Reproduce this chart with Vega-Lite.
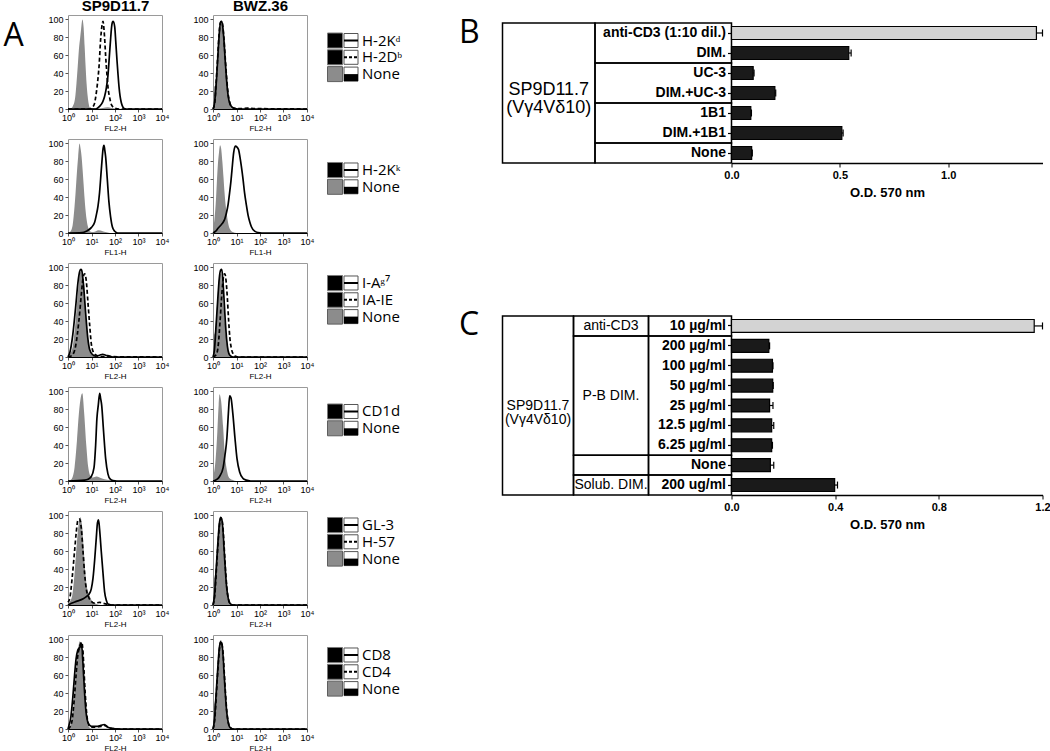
{
"$schema":"https://vega.github.io/schema/vega-lite/v6.json",
"padding":{"left":3,"top":-3,"right":0,"bottom":0},
"config":{
 "font":"Liberation Sans",
 "view":{"stroke":"#9a9a9a","strokeWidth":1},
 "axis":{"grid":false,"labelColor":"#000","titleColor":"#000","labelFont":"Liberation Sans","titleFont":"Liberation Sans"},
 "axisX":{"labelFontSize":9,"tickSize":3,"labelPadding":1,"titleFontSize":8,"titleFontWeight":"normal","titlePadding":2,"domainColor":"#000","tickColor":"#555","labelFlush":false,"labelOverlap":false},
 "axisY":{"labelFontSize":9,"tickSize":3,"labelPadding":2,"domainColor":"#888","domainDash":[1,1],"tickColor":"#555"},
 "title":{"font":"Liberation Sans","color":"#000"}
},
"datasets":{
 "h":[
  {"p":"1L","s":"none","x":[1,1.4,1.6,2,2.3,2.6,2.9,3.3,3.6,4.1,4.6,5.1,5.6,6.2,6.9,7.6,8.3,10,20,30,50,70,100,200,10000],"y":[0,1,3,12,29,48,66,80,89,100,92,70,48,28,14,6,2,1,0.5,1,2,1,0.5,0,0]},
  {"p":"1L","s":"dash","x":[1,8,10,13,16,19,21,24.5,27,29,31,34,37,40,45,50,60,70,97,150,10000],"y":[0,0,1,5,18,35,48,78,90,96,98,89,75,59,40,25,12,5,1,0,0]},
  {"p":"1L","s":"solid","x":[1,15,22,30,36,43,50,59,65,70,78,84,97,108,121,135,148,165,186,210,233,300,10000],"y":[0,0,3,8,14,24,37,63,78,89,97,98,92,75,55,38,25,14,7,3,1,0,0]},
  {"p":"1R","s":"none","x":[1,1.15,1.3,1.5,1.7,1.9,2.15,2.4,2.7,3,3.4,3.9,4.5,5.2,6,8,10000],"y":[35,25,30,50,70,85,93,95,88,72,50,28,12,4,1,0,0]},
  {"p":"1R","s":"solid","x":[1,1.1,1.3,1.5,1.7,1.9,2.1,2.35,2.6,2.9,3.3,3.8,4.4,5.2,6.5,8,12,10000],"y":[0,3,20,45,70,88,97,98,92,78,55,32,15,6,2,0.5,0,0]},
  {"p":"1R","s":"dash","x":[1,1.2,1.4,1.6,1.8,2,2.3,2.6,2.9,3.3,3.8,4.4,5.2,6.5,8,15,30,60,10000],"y":[0,8,35,60,82,95,98,93,80,58,35,17,7,2,1,0.5,1,0.5,0]},
  {"p":"2L","s":"none","x":[1,1.3,1.6,1.9,2.1,2.4,2.7,3.1,3.4,3.8,4.2,4.6,5.1,5.6,6.2,6.9,8.4,12,20,30,40,60,10000],"y":[0,2,10,30,45,68,85,100,95,85,70,55,38,25,15,8,2,1,3,2,1,0,0]},
  {"p":"2L","s":"solid","x":[1,4,6,9.8,13.6,16,18.9,22,26,29,31,34,37,40,47,55,65,77,97,130,10000],"y":[0,0.5,2,6,12,20,30,45,70,86,94,98,92,85,60,35,18,7,2,0,0]},
  {"p":"2R","s":"none","x":[1,1.15,1.3,1.45,1.6,1.8,2,2.2,2.5,2.8,3.1,3.5,3.9,4.5,5.1,7,10,10000],"y":[5,15,32,55,75,90,98,95,80,62,45,30,20,10,5,1,0,0]},
  {"p":"2R","s":"solid","x":[1,1.3,1.6,2.2,2.7,3.2,3.7,4.4,5.1,5.8,6.4,7.6,8.9,10.5,12.3,14,16,19,22,26,31,37,43,59,82,120,10000],"y":[0,2,5,9,12,16,22,32,45,58,70,90,97,96,93,85,75,60,45,32,20,12,7,2,0.5,0,0]},
  {"p":"3L","s":"none","x":[1,1.2,1.6,2.1,2.7,3.35,4.35,5.3,6.4,7.8,9.8,14,10000],"y":[0,3,12,40,75,95,85,60,30,10,3,0.5,0]},
  {"p":"3L","s":"solid","x":[1,1.2,1.6,2.1,2.7,3.1,3.5,3.8,4.6,5.6,6.9,8.4,10.8,15,22,30,40,59,80,10000],"y":[0,5,25,55,85,95,98,97,80,50,22,8,3,1,2,3,2,1,0,0]},
  {"p":"3L","s":"dash","x":[1,1.5,2.1,2.9,3.7,4.35,5.1,6,7.1,8.4,9.8,12.3,16,25,10000],"y":[0,2,12,40,70,88,93,85,60,35,15,5,2,0.5,0]},
  {"p":"3R","s":"none","x":[1,1.1,1.25,1.45,1.7,1.95,2.2,2.5,2.8,3.2,3.7,4.3,5.1,6.5,8,10000],"y":[35,25,30,55,80,92,93,80,60,38,20,8,3,1,0,0]},
  {"p":"3R","s":"solid","x":[1,1.15,1.35,1.6,1.85,2.1,2.35,2.6,2.9,3.3,3.8,4.4,5.2,7,10000],"y":[0,8,35,65,88,97,98,88,68,42,20,7,2,0,0]},
  {"p":"3R","s":"dash","x":[1,1.4,1.7,2,2.3,2.6,2.9,3.2,3.6,4.1,4.6,5.2,6,7,8.5,12,10000],"y":[0,3,15,40,65,82,92,93,85,65,42,22,10,4,1,0,0]},
  {"p":"4L","s":"none","x":[1,1.4,1.9,2.4,2.9,3.6,4.07,4.9,6,7.3,8.9,11.6,16,22,36,59,100,10000],"y":[0,2,15,45,75,95,98,75,40,15,6,4,5,4,2,1,0,0]},
  {"p":"4L","s":"solid","x":[1,5.1,7.1,9.8,12.8,15,17,19.5,22.3,24.5,27,32.7,40,50,63,82,120,10000],"y":[0,1,2,5,15,40,70,85,98,92,85,55,25,8,2,0.5,0,0]},
  {"p":"4R","s":"none","x":[1,1.3,1.53,1.74,1.9,2.2,2.7,3.2,3.9,5.1,7,10,10000],"y":[3,25,55,85,97,90,60,30,12,3,1,0,0]},
  {"p":"4R","s":"solid","x":[1,1.5,1.9,2.7,3.2,3.9,4.5,5.1,5.8,7,8.6,10.5,13.6,18.9,26,40,10000],"y":[0,2,5,15,28,48,75,95,93,75,48,25,10,3,1,0,0]},
  {"p":"5L","s":"none","x":[1,1.1,1.5,1.9,2.4,2.9,3.35,4.1,4.6,5.3,6.4,7.8,9.8,12.3,16,25,10000],"y":[0,2,10,35,70,92,98,85,65,40,20,12,6,3,1,0,0]},
  {"p":"5L","s":"dash","x":[1,1.2,1.5,1.9,2.26,2.66,3.1,3.7,4.35,5.1,6,7.8,9.8,13.6,22,31,43,70,10000],"y":[3,8,30,60,82,95,96,85,60,35,18,8,4,2,3,2,1,0,0]},
  {"p":"5L","s":"solid","x":[1,1.4,2.26,3.7,5.1,6.4,7.8,9.8,11.6,13.6,16,18,19.9,22,26,31,36,43,50,70,10000],"y":[0,2,4,6,8,10,12,18,30,50,75,92,95,85,60,35,15,5,1,0,0]},
  {"p":"5R","s":"none","x":[1,1.1,1.3,1.5,1.75,2,2.2,2.5,2.8,3.2,3.7,4.3,5.1,6.5,8,10000],"y":[40,30,40,60,85,95,93,80,60,38,18,7,2,0.5,0,0]},
  {"p":"5R","s":"solid","x":[1,1.15,1.35,1.6,1.85,2.1,2.35,2.6,2.9,3.3,3.8,4.4,5.2,7,10000],"y":[0,10,38,68,90,98,96,86,66,42,20,8,2,0,0]},
  {"p":"5R","s":"dash","x":[1,1.2,1.4,1.65,1.9,2.15,2.4,2.7,3,3.4,3.9,4.5,5.3,7,10000],"y":[0,12,40,70,90,97,95,84,64,40,19,7,2,0,0]},
  {"p":"6L","s":"none","x":[1,1.2,1.5,1.8,2.1,2.5,2.9,3.2,3.6,4.1,4.6,5.2,5.9,6.8,8,10,10000],"y":[0,3,12,35,60,82,95,98,92,78,55,32,15,6,2,0.5,0]},
  {"p":"6L","s":"solid","x":[1,1.1,1.3,1.6,1.9,2.2,2.6,2.9,3.3,3.6,4,4.5,5.1,5.8,6.6,7.8,10,16,25,35,50,80,150,10000],"y":[0,4,12,35,60,78,88,90,92,96,88,65,40,20,10,5,3,3,4,5,2,0.5,0,0]},
  {"p":"6L","s":"dash","x":[1,1.2,1.5,1.8,2.2,2.6,3,3.4,3.8,4.3,4.8,5.4,6.1,7,8.5,12,25,35,50,80,150,10000],"y":[0,2,10,30,60,82,90,95,97,88,65,40,20,8,3,2,3,4,2,0.5,0,0]},
  {"p":"6R","s":"none","x":[1,1.1,1.3,1.5,1.75,2,2.2,2.5,2.8,3.2,3.7,4.3,5.1,6.5,8,10000],"y":[40,28,38,60,84,95,94,80,60,38,18,7,2,0.5,0,0]},
  {"p":"6R","s":"solid","x":[1,1.15,1.35,1.6,1.85,2.1,2.35,2.6,2.9,3.3,3.8,4.4,5.2,7,10000],"y":[0,10,38,68,90,97,96,86,66,42,20,8,2,0,0]},
  {"p":"6R","s":"dash","x":[1,1.2,1.4,1.65,1.9,2.15,2.4,2.7,3,3.4,3.9,4.5,5.3,7,10000],"y":[0,12,40,70,90,98,95,84,64,40,19,7,2,0,0]}
 ],
 "leg":[
  {"r":1,"i":0,"k":"ab","st":"solid","t":"H-2Kᵈ"},
  {"r":1,"i":1,"k":"ab","st":"dash","t":"H-2Dᵇ"},
  {"r":1,"i":2,"k":"none","st":"none","t":"None"},
  {"r":2,"i":0,"k":"ab","st":"solid","t":"H-2Kᵏ"},
  {"r":2,"i":1,"k":"none","st":"none","t":"None"},
  {"r":3,"i":0,"k":"ab","st":"solid","t":"I-Aᵍ⁷"},
  {"r":3,"i":1,"k":"ab","st":"dash","t":"IA-IE"},
  {"r":3,"i":2,"k":"none","st":"none","t":"None"},
  {"r":4,"i":0,"k":"ab","st":"solid","t":"CD1d"},
  {"r":4,"i":1,"k":"none","st":"none","t":"None"},
  {"r":5,"i":0,"k":"ab","st":"solid","t":"GL-3"},
  {"r":5,"i":1,"k":"ab","st":"dash","t":"H-57"},
  {"r":5,"i":2,"k":"none","st":"none","t":"None"},
  {"r":6,"i":0,"k":"ab","st":"solid","t":"CD8"},
  {"r":6,"i":1,"k":"ab","st":"dash","t":"CD4"},
  {"r":6,"i":2,"k":"none","st":"none","t":"None"}
 ],
 "b":[
  {"c":"anti-CD3 (1:10 dil.)","k":"ctrl","v":1.407,"hi":1.435},
  {"c":"DIM.","k":"test","v":0.541,"hi":0.552},
  {"c":"UC-3","k":"test","v":0.1,"hi":0.104},
  {"c":"DIM.+UC-3","k":"test","v":0.2,"hi":0.204},
  {"c":"1B1","k":"test","v":0.089,"hi":0.092},
  {"c":"DIM.+1B1","k":"test","v":0.509,"hi":0.515},
  {"c":"None","k":"test","v":0.093,"hi":0.096}
 ],
 "c":[
  {"c":"10 µg/ml","k":"ctrl","v":1.168,"hi":1.2},
  {"c":"200 µg/ml","k":"test","v":0.144,"hi":0.147},
  {"c":"100 µg/ml","k":"test","v":0.158,"hi":0.16},
  {"c":"50 µg/ml","k":"test","v":0.159,"hi":0.161},
  {"c":"25 µg/ml","k":"test","v":0.147,"hi":0.16},
  {"c":"12.5 µg/ml","k":"test","v":0.155,"hi":0.163},
  {"c":"6.25 µg/ml","k":"test","v":0.155,"hi":0.158},
  {"c":"None","k":"test","v":0.15,"hi":0.163},
  {"c":"200 ug/ml","k":"test","v":0.398,"hi":0.409}
 ],
 "tb":[
  {"c0":0,"c1":1,"r0":0,"r1":7,"t":"SP9D11.7\n(Vγ4Vδ10)"},
  {"c0":1,"c1":2,"r0":0,"r1":2,"t":""},
  {"c0":1,"c1":2,"r0":2,"r1":4,"t":""},
  {"c0":1,"c1":2,"r0":4,"r1":6,"t":""},
  {"c0":1,"c1":2,"r0":6,"r1":7,"t":""}
 ],
 "tc":[
  {"c0":0,"c1":1,"r0":0,"r1":9,"t":"SP9D11.7\n(Vγ4Vδ10)"},
  {"c0":1,"c1":2,"r0":0,"r1":1,"t":"anti-CD3"},
  {"c0":1,"c1":2,"r0":1,"r1":7,"t":"P-B DIM."},
  {"c0":1,"c1":2,"r0":7,"r1":8,"t":""},
  {"c0":1,"c1":2,"r0":8,"r1":9,"t":"Solub. DIM."},
  {"c0":2,"c1":3,"r0":0,"r1":1,"t":""},
  {"c0":2,"c1":3,"r0":1,"r1":7,"t":""},
  {"c0":2,"c1":3,"r0":7,"r1":8,"t":""},
  {"c0":2,"c1":3,"r0":8,"r1":9,"t":""}
 ]
},
"spacing":6.5,
"hconcat":[
 {
  "columns":3,
  "spacing":{"row":30,"column":51},
  "bounds":"flush",
  "concat":[
   {"width":94,"height":94,"data":{"name":"h"},"transform":[{"filter":"datum.p=='1L'"},{"flatten":["x","y"]}],
    "encoding":{"x":{"field":"x","type":"quantitative","scale":{"type":"log","domain":[1,10000],"nice":false},"axis":{"values":[1,10,100,1000,10000],"labelExpr":"'10'+['⁰','¹','²','³','⁴'][round(log(datum.value)/LN10)]","title":"FL2-H"}},"y":{"field":"y","type":"quantitative","scale":{"domain":[0,105],"nice":false},"axis":{"values":[0,20,40,60,80,100],"title":"SP9D11.7","titleAngle":0,"titleX":47,"titleY":-5,"titleAlign":"center","titleBaseline":"alphabetic","titleFontSize":15,"titleFontWeight":"bold"}}},
    "layer":[{"transform":[{"filter":"datum.s=='none'"}],"mark":{"type":"area","color":"#8c8c8c","interpolate":"monotone"}},{"transform":[{"filter":"datum.s=='dash'"}],"mark":{"type":"line","color":"#000","strokeWidth":1.7,"strokeDash":[4,2.5],"interpolate":"monotone"}},{"transform":[{"filter":"datum.s=='solid'"}],"mark":{"type":"line","color":"#000","strokeWidth":1.7,"interpolate":"monotone"}}]},
   {"width":94,"height":94,"data":{"name":"h"},"transform":[{"filter":"datum.p=='1R'"},{"flatten":["x","y"]}],
    "encoding":{"x":{"field":"x","type":"quantitative","scale":{"type":"log","domain":[1,10000],"nice":false},"axis":{"values":[1,10,100,1000,10000],"labelExpr":"'10'+['⁰','¹','²','³','⁴'][round(log(datum.value)/LN10)]","title":"FL2-H"}},"y":{"field":"y","type":"quantitative","scale":{"domain":[0,105],"nice":false},"axis":{"values":[0,20,40,60,80,100],"title":"BWZ.36","titleAngle":0,"titleX":47,"titleY":-5,"titleAlign":"center","titleBaseline":"alphabetic","titleFontSize":15,"titleFontWeight":"bold"}}},
    "layer":[{"transform":[{"filter":"datum.s=='none'"}],"mark":{"type":"area","color":"#8c8c8c","interpolate":"monotone"}},{"transform":[{"filter":"datum.s=='dash'"}],"mark":{"type":"line","color":"#000","strokeWidth":1.7,"strokeDash":[4,2.5],"interpolate":"monotone"}},{"transform":[{"filter":"datum.s=='solid'"}],"mark":{"type":"line","color":"#000","strokeWidth":1.7,"interpolate":"monotone"}}]},
   {"width":94,"height":94,"view":{"stroke":null},"data":{"name":"leg"},"transform":[{"filter":"datum.r==1"}],
    "encoding":{"y":{"field":"i","type":"quantitative","scale":{"domain":[-1.518,4.077],"reverse":true,"nice":false,"zero":false},"axis":{"values":[],"labels":false,"ticks":false,"domain":false,"title":"A","titleAngle":0,"titleX":-355,"titleY":30,"titleAlign":"left","titleBaseline":"alphabetic","titleFontSize":32,"titleFont":"Open Sans","titleFontWeight":"normal"}},"x":{"datum":0,"type":"quantitative","scale":{"domain":[1.4375,7.3125],"nice":false,"zero":false},"axis":null}},
    "layer":[
     {"mark":{"type":"point","shape":"square","filled":true,"size":225,"strokeWidth":1,"opacity":1},"encoding":{"fill":{"field":"k","type":"nominal","scale":{"domain":["ab","none","ctrl","test"],"range":["#000000","#8c8c8c","#d3d3d3","#1a1a1a"]},"legend":null},"stroke":{"field":"k","type":"nominal","scale":{"domain":["ab","none"],"range":["#7a7a7a","#5e5e5e"]},"legend":null}}},
     {"mark":{"type":"point","shape":"square","filled":true,"fill":"#ffffff","stroke":"#555555","strokeWidth":1,"size":196,"opacity":1},"encoding":{"x":{"datum":1,"type":"quantitative"}}},
     {"transform":[{"filter":"datum.st!='none'"}],"mark":{"type":"point","shape":"M-1,0L1,0","filled":false,"stroke":"#000000","strokeWidth":2,"size":196,"opacity":1},"encoding":{"x":{"datum":1,"type":"quantitative"},"strokeDash":{"field":"st","type":"nominal","scale":{"domain":["solid","dash"],"range":[[1,0],[3,2]]},"legend":null}}},
     {"transform":[{"filter":"datum.st=='none'"}],"mark":{"type":"point","shape":"M-1,0L1,0L1,1L-1,1Z","filled":true,"fill":"#000000","size":196,"opacity":1},"encoding":{"x":{"datum":1,"type":"quantitative"}}},
     {"mark":{"type":"text","align":"left","baseline":"middle","dx":11,"fontSize":15,"font":"Open Sans","color":"#000000"},"encoding":{"x":{"datum":1,"type":"quantitative"},"text":{"field":"t","type":"nominal"}}}
    ]},
   {"width":94,"height":94,"data":{"name":"h"},"transform":[{"filter":"datum.p=='2L'"},{"flatten":["x","y"]}],
    "encoding":{"x":{"field":"x","type":"quantitative","scale":{"type":"log","domain":[1,10000],"nice":false},"axis":{"values":[1,10,100,1000,10000],"labelExpr":"'10'+['⁰','¹','²','³','⁴'][round(log(datum.value)/LN10)]","title":"FL1-H"}},"y":{"field":"y","type":"quantitative","scale":{"domain":[0,105],"nice":false},"axis":{"values":[0,20,40,60,80,100],"title":null}}},
    "layer":[{"transform":[{"filter":"datum.s=='none'"}],"mark":{"type":"area","color":"#8c8c8c","interpolate":"monotone"}},{"transform":[{"filter":"datum.s=='dash'"}],"mark":{"type":"line","color":"#000","strokeWidth":1.7,"strokeDash":[4,2.5],"interpolate":"monotone"}},{"transform":[{"filter":"datum.s=='solid'"}],"mark":{"type":"line","color":"#000","strokeWidth":1.7,"interpolate":"monotone"}}]},
   {"width":94,"height":94,"data":{"name":"h"},"transform":[{"filter":"datum.p=='2R'"},{"flatten":["x","y"]}],
    "encoding":{"x":{"field":"x","type":"quantitative","scale":{"type":"log","domain":[1,10000],"nice":false},"axis":{"values":[1,10,100,1000,10000],"labelExpr":"'10'+['⁰','¹','²','³','⁴'][round(log(datum.value)/LN10)]","title":"FL1-H"}},"y":{"field":"y","type":"quantitative","scale":{"domain":[0,105],"nice":false},"axis":{"values":[0,20,40,60,80,100],"title":null}}},
    "layer":[{"transform":[{"filter":"datum.s=='none'"}],"mark":{"type":"area","color":"#8c8c8c","interpolate":"monotone"}},{"transform":[{"filter":"datum.s=='dash'"}],"mark":{"type":"line","color":"#000","strokeWidth":1.7,"strokeDash":[4,2.5],"interpolate":"monotone"}},{"transform":[{"filter":"datum.s=='solid'"}],"mark":{"type":"line","color":"#000","strokeWidth":1.7,"interpolate":"monotone"}}]},
   {"width":94,"height":94,"view":{"stroke":null},"data":{"name":"leg"},"transform":[{"filter":"datum.r==2"}],
    "encoding":{"y":{"field":"i","type":"quantitative","scale":{"domain":[-1.845,3.75],"reverse":true,"nice":false,"zero":false},"axis":null},"x":{"datum":0,"type":"quantitative","scale":{"domain":[1.4375,7.3125],"nice":false,"zero":false},"axis":null}},
    "layer":[
     {"mark":{"type":"point","shape":"square","filled":true,"size":225,"strokeWidth":1,"opacity":1},"encoding":{"fill":{"field":"k","type":"nominal","scale":{"domain":["ab","none","ctrl","test"],"range":["#000000","#8c8c8c","#d3d3d3","#1a1a1a"]},"legend":null},"stroke":{"field":"k","type":"nominal","scale":{"domain":["ab","none"],"range":["#7a7a7a","#5e5e5e"]},"legend":null}}},
     {"mark":{"type":"point","shape":"square","filled":true,"fill":"#ffffff","stroke":"#555555","strokeWidth":1,"size":196,"opacity":1},"encoding":{"x":{"datum":1,"type":"quantitative"}}},
     {"transform":[{"filter":"datum.st!='none'"}],"mark":{"type":"point","shape":"M-1,0L1,0","filled":false,"stroke":"#000000","strokeWidth":2,"size":196,"opacity":1},"encoding":{"x":{"datum":1,"type":"quantitative"},"strokeDash":{"field":"st","type":"nominal","scale":{"domain":["solid","dash"],"range":[[1,0],[3,2]]},"legend":null}}},
     {"transform":[{"filter":"datum.st=='none'"}],"mark":{"type":"point","shape":"M-1,0L1,0L1,1L-1,1Z","filled":true,"fill":"#000000","size":196,"opacity":1},"encoding":{"x":{"datum":1,"type":"quantitative"}}},
     {"mark":{"type":"text","align":"left","baseline":"middle","dx":11,"fontSize":15,"font":"Open Sans","color":"#000000"},"encoding":{"x":{"datum":1,"type":"quantitative"},"text":{"field":"t","type":"nominal"}}}
    ]},
   {"width":94,"height":94,"data":{"name":"h"},"transform":[{"filter":"datum.p=='3L'"},{"flatten":["x","y"]}],
    "encoding":{"x":{"field":"x","type":"quantitative","scale":{"type":"log","domain":[1,10000],"nice":false},"axis":{"values":[1,10,100,1000,10000],"labelExpr":"'10'+['⁰','¹','²','³','⁴'][round(log(datum.value)/LN10)]","title":"FL2-H"}},"y":{"field":"y","type":"quantitative","scale":{"domain":[0,105],"nice":false},"axis":{"values":[0,20,40,60,80,100],"title":null}}},
    "layer":[{"transform":[{"filter":"datum.s=='none'"}],"mark":{"type":"area","color":"#8c8c8c","interpolate":"monotone"}},{"transform":[{"filter":"datum.s=='dash'"}],"mark":{"type":"line","color":"#000","strokeWidth":1.7,"strokeDash":[4,2.5],"interpolate":"monotone"}},{"transform":[{"filter":"datum.s=='solid'"}],"mark":{"type":"line","color":"#000","strokeWidth":1.7,"interpolate":"monotone"}}]},
   {"width":94,"height":94,"data":{"name":"h"},"transform":[{"filter":"datum.p=='3R'"},{"flatten":["x","y"]}],
    "encoding":{"x":{"field":"x","type":"quantitative","scale":{"type":"log","domain":[1,10000],"nice":false},"axis":{"values":[1,10,100,1000,10000],"labelExpr":"'10'+['⁰','¹','²','³','⁴'][round(log(datum.value)/LN10)]","title":"FL2-H"}},"y":{"field":"y","type":"quantitative","scale":{"domain":[0,105],"nice":false},"axis":{"values":[0,20,40,60,80,100],"title":null}}},
    "layer":[{"transform":[{"filter":"datum.s=='none'"}],"mark":{"type":"area","color":"#8c8c8c","interpolate":"monotone"}},{"transform":[{"filter":"datum.s=='dash'"}],"mark":{"type":"line","color":"#000","strokeWidth":1.7,"strokeDash":[4,2.5],"interpolate":"monotone"}},{"transform":[{"filter":"datum.s=='solid'"}],"mark":{"type":"line","color":"#000","strokeWidth":1.7,"interpolate":"monotone"}}]},
   {"width":94,"height":94,"view":{"stroke":null},"data":{"name":"leg"},"transform":[{"filter":"datum.r==3"}],
    "encoding":{"y":{"field":"i","type":"quantitative","scale":{"domain":[-1.19,4.405],"reverse":true,"nice":false,"zero":false},"axis":null},"x":{"datum":0,"type":"quantitative","scale":{"domain":[1.4375,7.3125],"nice":false,"zero":false},"axis":null}},
    "layer":[
     {"mark":{"type":"point","shape":"square","filled":true,"size":225,"strokeWidth":1,"opacity":1},"encoding":{"fill":{"field":"k","type":"nominal","scale":{"domain":["ab","none","ctrl","test"],"range":["#000000","#8c8c8c","#d3d3d3","#1a1a1a"]},"legend":null},"stroke":{"field":"k","type":"nominal","scale":{"domain":["ab","none"],"range":["#7a7a7a","#5e5e5e"]},"legend":null}}},
     {"mark":{"type":"point","shape":"square","filled":true,"fill":"#ffffff","stroke":"#555555","strokeWidth":1,"size":196,"opacity":1},"encoding":{"x":{"datum":1,"type":"quantitative"}}},
     {"transform":[{"filter":"datum.st!='none'"}],"mark":{"type":"point","shape":"M-1,0L1,0","filled":false,"stroke":"#000000","strokeWidth":2,"size":196,"opacity":1},"encoding":{"x":{"datum":1,"type":"quantitative"},"strokeDash":{"field":"st","type":"nominal","scale":{"domain":["solid","dash"],"range":[[1,0],[3,2]]},"legend":null}}},
     {"transform":[{"filter":"datum.st=='none'"}],"mark":{"type":"point","shape":"M-1,0L1,0L1,1L-1,1Z","filled":true,"fill":"#000000","size":196,"opacity":1},"encoding":{"x":{"datum":1,"type":"quantitative"}}},
     {"mark":{"type":"text","align":"left","baseline":"middle","dx":11,"fontSize":15,"font":"Open Sans","color":"#000000"},"encoding":{"x":{"datum":1,"type":"quantitative"},"text":{"field":"t","type":"nominal"}}}
    ]},
   {"width":94,"height":94,"data":{"name":"h"},"transform":[{"filter":"datum.p=='4L'"},{"flatten":["x","y"]}],
    "encoding":{"x":{"field":"x","type":"quantitative","scale":{"type":"log","domain":[1,10000],"nice":false},"axis":{"values":[1,10,100,1000,10000],"labelExpr":"'10'+['⁰','¹','²','³','⁴'][round(log(datum.value)/LN10)]","title":"FL2-H"}},"y":{"field":"y","type":"quantitative","scale":{"domain":[0,105],"nice":false},"axis":{"values":[0,20,40,60,80,100],"title":null}}},
    "layer":[{"transform":[{"filter":"datum.s=='none'"}],"mark":{"type":"area","color":"#8c8c8c","interpolate":"monotone"}},{"transform":[{"filter":"datum.s=='dash'"}],"mark":{"type":"line","color":"#000","strokeWidth":1.7,"strokeDash":[4,2.5],"interpolate":"monotone"}},{"transform":[{"filter":"datum.s=='solid'"}],"mark":{"type":"line","color":"#000","strokeWidth":1.7,"interpolate":"monotone"}}]},
   {"width":94,"height":94,"data":{"name":"h"},"transform":[{"filter":"datum.p=='4R'"},{"flatten":["x","y"]}],
    "encoding":{"x":{"field":"x","type":"quantitative","scale":{"type":"log","domain":[1,10000],"nice":false},"axis":{"values":[1,10,100,1000,10000],"labelExpr":"'10'+['⁰','¹','²','³','⁴'][round(log(datum.value)/LN10)]","title":"FL2-H"}},"y":{"field":"y","type":"quantitative","scale":{"domain":[0,105],"nice":false},"axis":{"values":[0,20,40,60,80,100],"title":null}}},
    "layer":[{"transform":[{"filter":"datum.s=='none'"}],"mark":{"type":"area","color":"#8c8c8c","interpolate":"monotone"}},{"transform":[{"filter":"datum.s=='dash'"}],"mark":{"type":"line","color":"#000","strokeWidth":1.7,"strokeDash":[4,2.5],"interpolate":"monotone"}},{"transform":[{"filter":"datum.s=='solid'"}],"mark":{"type":"line","color":"#000","strokeWidth":1.7,"interpolate":"monotone"}}]},
   {"width":94,"height":94,"view":{"stroke":null},"data":{"name":"leg"},"transform":[{"filter":"datum.r==4"}],
    "encoding":{"y":{"field":"i","type":"quantitative","scale":{"domain":[-1.458,4.137],"reverse":true,"nice":false,"zero":false},"axis":null},"x":{"datum":0,"type":"quantitative","scale":{"domain":[1.4375,7.3125],"nice":false,"zero":false},"axis":null}},
    "layer":[
     {"mark":{"type":"point","shape":"square","filled":true,"size":225,"strokeWidth":1,"opacity":1},"encoding":{"fill":{"field":"k","type":"nominal","scale":{"domain":["ab","none","ctrl","test"],"range":["#000000","#8c8c8c","#d3d3d3","#1a1a1a"]},"legend":null},"stroke":{"field":"k","type":"nominal","scale":{"domain":["ab","none"],"range":["#7a7a7a","#5e5e5e"]},"legend":null}}},
     {"mark":{"type":"point","shape":"square","filled":true,"fill":"#ffffff","stroke":"#555555","strokeWidth":1,"size":196,"opacity":1},"encoding":{"x":{"datum":1,"type":"quantitative"}}},
     {"transform":[{"filter":"datum.st!='none'"}],"mark":{"type":"point","shape":"M-1,0L1,0","filled":false,"stroke":"#000000","strokeWidth":2,"size":196,"opacity":1},"encoding":{"x":{"datum":1,"type":"quantitative"},"strokeDash":{"field":"st","type":"nominal","scale":{"domain":["solid","dash"],"range":[[1,0],[3,2]]},"legend":null}}},
     {"transform":[{"filter":"datum.st=='none'"}],"mark":{"type":"point","shape":"M-1,0L1,0L1,1L-1,1Z","filled":true,"fill":"#000000","size":196,"opacity":1},"encoding":{"x":{"datum":1,"type":"quantitative"}}},
     {"mark":{"type":"text","align":"left","baseline":"middle","dx":11,"fontSize":15,"font":"Open Sans","color":"#000000"},"encoding":{"x":{"datum":1,"type":"quantitative"},"text":{"field":"t","type":"nominal"}}}
    ]},
   {"width":94,"height":94,"data":{"name":"h"},"transform":[{"filter":"datum.p=='5L'"},{"flatten":["x","y"]}],
    "encoding":{"x":{"field":"x","type":"quantitative","scale":{"type":"log","domain":[1,10000],"nice":false},"axis":{"values":[1,10,100,1000,10000],"labelExpr":"'10'+['⁰','¹','²','³','⁴'][round(log(datum.value)/LN10)]","title":"FL2-H"}},"y":{"field":"y","type":"quantitative","scale":{"domain":[0,105],"nice":false},"axis":{"values":[0,20,40,60,80,100],"title":null}}},
    "layer":[{"transform":[{"filter":"datum.s=='none'"}],"mark":{"type":"area","color":"#8c8c8c","interpolate":"monotone"}},{"transform":[{"filter":"datum.s=='dash'"}],"mark":{"type":"line","color":"#000","strokeWidth":1.7,"strokeDash":[4,2.5],"interpolate":"monotone"}},{"transform":[{"filter":"datum.s=='solid'"}],"mark":{"type":"line","color":"#000","strokeWidth":1.7,"interpolate":"monotone"}}]},
   {"width":94,"height":94,"data":{"name":"h"},"transform":[{"filter":"datum.p=='5R'"},{"flatten":["x","y"]}],
    "encoding":{"x":{"field":"x","type":"quantitative","scale":{"type":"log","domain":[1,10000],"nice":false},"axis":{"values":[1,10,100,1000,10000],"labelExpr":"'10'+['⁰','¹','²','³','⁴'][round(log(datum.value)/LN10)]","title":"FL2-H"}},"y":{"field":"y","type":"quantitative","scale":{"domain":[0,105],"nice":false},"axis":{"values":[0,20,40,60,80,100],"title":null}}},
    "layer":[{"transform":[{"filter":"datum.s=='none'"}],"mark":{"type":"area","color":"#8c8c8c","interpolate":"monotone"}},{"transform":[{"filter":"datum.s=='dash'"}],"mark":{"type":"line","color":"#000","strokeWidth":1.7,"strokeDash":[4,2.5],"interpolate":"monotone"}},{"transform":[{"filter":"datum.s=='solid'"}],"mark":{"type":"line","color":"#000","strokeWidth":1.7,"interpolate":"monotone"}}]},
   {"width":94,"height":94,"view":{"stroke":null},"data":{"name":"leg"},"transform":[{"filter":"datum.r==5"}],
    "encoding":{"y":{"field":"i","type":"quantitative","scale":{"domain":[-0.833,4.762],"reverse":true,"nice":false,"zero":false},"axis":null},"x":{"datum":0,"type":"quantitative","scale":{"domain":[1.4375,7.3125],"nice":false,"zero":false},"axis":null}},
    "layer":[
     {"mark":{"type":"point","shape":"square","filled":true,"size":225,"strokeWidth":1,"opacity":1},"encoding":{"fill":{"field":"k","type":"nominal","scale":{"domain":["ab","none","ctrl","test"],"range":["#000000","#8c8c8c","#d3d3d3","#1a1a1a"]},"legend":null},"stroke":{"field":"k","type":"nominal","scale":{"domain":["ab","none"],"range":["#7a7a7a","#5e5e5e"]},"legend":null}}},
     {"mark":{"type":"point","shape":"square","filled":true,"fill":"#ffffff","stroke":"#555555","strokeWidth":1,"size":196,"opacity":1},"encoding":{"x":{"datum":1,"type":"quantitative"}}},
     {"transform":[{"filter":"datum.st!='none'"}],"mark":{"type":"point","shape":"M-1,0L1,0","filled":false,"stroke":"#000000","strokeWidth":2,"size":196,"opacity":1},"encoding":{"x":{"datum":1,"type":"quantitative"},"strokeDash":{"field":"st","type":"nominal","scale":{"domain":["solid","dash"],"range":[[1,0],[3,2]]},"legend":null}}},
     {"transform":[{"filter":"datum.st=='none'"}],"mark":{"type":"point","shape":"M-1,0L1,0L1,1L-1,1Z","filled":true,"fill":"#000000","size":196,"opacity":1},"encoding":{"x":{"datum":1,"type":"quantitative"}}},
     {"mark":{"type":"text","align":"left","baseline":"middle","dx":11,"fontSize":15,"font":"Open Sans","color":"#000000"},"encoding":{"x":{"datum":1,"type":"quantitative"},"text":{"field":"t","type":"nominal"}}}
    ]},
   {"width":94,"height":94,"data":{"name":"h"},"transform":[{"filter":"datum.p=='6L'"},{"flatten":["x","y"]}],
    "encoding":{"x":{"field":"x","type":"quantitative","scale":{"type":"log","domain":[1,10000],"nice":false},"axis":{"values":[1,10,100,1000,10000],"labelExpr":"'10'+['⁰','¹','²','³','⁴'][round(log(datum.value)/LN10)]","title":"FL2-H"}},"y":{"field":"y","type":"quantitative","scale":{"domain":[0,105],"nice":false},"axis":{"values":[0,20,40,60,80,100],"title":null}}},
    "layer":[{"transform":[{"filter":"datum.s=='none'"}],"mark":{"type":"area","color":"#8c8c8c","interpolate":"monotone"}},{"transform":[{"filter":"datum.s=='dash'"}],"mark":{"type":"line","color":"#000","strokeWidth":1.7,"strokeDash":[4,2.5],"interpolate":"monotone"}},{"transform":[{"filter":"datum.s=='solid'"}],"mark":{"type":"line","color":"#000","strokeWidth":1.7,"interpolate":"monotone"}}]},
   {"width":94,"height":94,"data":{"name":"h"},"transform":[{"filter":"datum.p=='6R'"},{"flatten":["x","y"]}],
    "encoding":{"x":{"field":"x","type":"quantitative","scale":{"type":"log","domain":[1,10000],"nice":false},"axis":{"values":[1,10,100,1000,10000],"labelExpr":"'10'+['⁰','¹','²','³','⁴'][round(log(datum.value)/LN10)]","title":"FL2-H"}},"y":{"field":"y","type":"quantitative","scale":{"domain":[0,105],"nice":false},"axis":{"values":[0,20,40,60,80,100],"title":null}}},
    "layer":[{"transform":[{"filter":"datum.s=='none'"}],"mark":{"type":"area","color":"#8c8c8c","interpolate":"monotone"}},{"transform":[{"filter":"datum.s=='dash'"}],"mark":{"type":"line","color":"#000","strokeWidth":1.7,"strokeDash":[4,2.5],"interpolate":"monotone"}},{"transform":[{"filter":"datum.s=='solid'"}],"mark":{"type":"line","color":"#000","strokeWidth":1.7,"interpolate":"monotone"}}]},
   {"width":94,"height":94,"view":{"stroke":null},"data":{"name":"leg"},"transform":[{"filter":"datum.r==6"}],
    "encoding":{"y":{"field":"i","type":"quantitative","scale":{"domain":[-1.19,4.405],"reverse":true,"nice":false,"zero":false},"axis":null},"x":{"datum":0,"type":"quantitative","scale":{"domain":[1.4375,7.3125],"nice":false,"zero":false},"axis":null}},
    "layer":[
     {"mark":{"type":"point","shape":"square","filled":true,"size":225,"strokeWidth":1,"opacity":1},"encoding":{"fill":{"field":"k","type":"nominal","scale":{"domain":["ab","none","ctrl","test"],"range":["#000000","#8c8c8c","#d3d3d3","#1a1a1a"]},"legend":null},"stroke":{"field":"k","type":"nominal","scale":{"domain":["ab","none"],"range":["#7a7a7a","#5e5e5e"]},"legend":null}}},
     {"mark":{"type":"point","shape":"square","filled":true,"fill":"#ffffff","stroke":"#555555","strokeWidth":1,"size":196,"opacity":1},"encoding":{"x":{"datum":1,"type":"quantitative"}}},
     {"transform":[{"filter":"datum.st!='none'"}],"mark":{"type":"point","shape":"M-1,0L1,0","filled":false,"stroke":"#000000","strokeWidth":2,"size":196,"opacity":1},"encoding":{"x":{"datum":1,"type":"quantitative"},"strokeDash":{"field":"st","type":"nominal","scale":{"domain":["solid","dash"],"range":[[1,0],[3,2]]},"legend":null}}},
     {"transform":[{"filter":"datum.st=='none'"}],"mark":{"type":"point","shape":"M-1,0L1,0L1,1L-1,1Z","filled":true,"fill":"#000000","size":196,"opacity":1},"encoding":{"x":{"datum":1,"type":"quantitative"}}},
     {"mark":{"type":"text","align":"left","baseline":"middle","dx":11,"fontSize":15,"font":"Open Sans","color":"#000000"},"encoding":{"x":{"datum":1,"type":"quantitative"},"text":{"field":"t","type":"nominal"}}}
    ]}
  ]
 },
 {
  "spacing":109,
  "vconcat":[
   {"spacing":0,
    "vconcat":[
     {"width":10,"height":1,"view":{"stroke":null},"data":{"values":[{"z":0}]},"mark":{"type":"rect","opacity":0}},
     {"spacing":0,"bounds":"flush",
      "hconcat":[
       {"width":229,"height":140,"view":{"stroke":null},"data":{"name":"tb"},
        "layer":[
         {"mark":{"type":"rect","fill":"#ffffff","fillOpacity":0,"stroke":"#000000","strokeWidth":1.5},
          "encoding":{"x":{"field":"c0","type":"quantitative","scale":{"domain":[0,1,2],"range":[0,92.5,229],"nice":false,"zero":false},"axis":null},"x2":{"field":"c1"},"y":{"field":"r0","type":"quantitative","scale":{"domain":[0,7],"reverse":true,"nice":false,"zero":false},"axis":{"values":[],"labels":false,"ticks":false,"domain":false,"title":"B","titleAngle":0,"titleX":-44,"titleY":19,"titleAlign":"left","titleBaseline":"alphabetic","titleFontSize":32,"titleFont":"Open Sans","titleFontWeight":"normal"}},"y2":{"field":"r1"}}},
         {"transform":[{"filter":"datum.t!=''"},{"fold":["c0","c1"],"as":["ck","cx"]},{"fold":["r0","r1"],"as":["rk","ry"]},{"aggregate":[{"op":"mean","field":"cx","as":"xm"},{"op":"mean","field":"ry","as":"ym"}],"groupby":["t"]}],
          "mark":{"type":"text","align":"center","baseline":"middle","dy":-3,"fontSize":18,"lineHeight":18,"lineBreak":"\n","font":"Liberation Sans","color":"#000000"},
          "encoding":{"x":{"field":"xm","type":"quantitative"},"y":{"field":"ym","type":"quantitative"},"text":{"field":"t","type":"nominal"}}}
        ]},
       {"width":311,"height":140,"view":{"stroke":null},"data":{"name":"b"},
        "encoding":{"y":{"field":"c","type":"nominal","sort":null,"scale":{"paddingInner":0,"paddingOuter":0},"axis":{"title":null,"domain":false,"labelFontWeight":"bold","labelFontSize":14,"labelColor":"#000","tickColor":"#000","tickSize":4,"tickWidth":1.2,"labelPadding":2}}},
        "layer":[
         {"mark":{"type":"bar","height":{"band":0.65},"stroke":"#000","strokeWidth":1.2,"opacity":1},
          "encoding":{"x":{"field":"v","type":"quantitative","stack":null,"scale":{"domain":[0,1.435],"nice":false,"zero":true},"axis":{"values":[0,0.5,1],"format":".1f","title":"O.D. 570 nm","labelFontSize":11,"labelFontWeight":"bold","titleFontSize":13,"titleFontWeight":"bold","titlePadding":6,"tickSize":4,"tickColor":"#000","domainColor":"#000","domainWidth":1.5,"labelPadding":2}},"fill":{"field":"k","type":"nominal","scale":{"domain":["ab","none","ctrl","test"],"range":["#000000","#8c8c8c","#d3d3d3","#1a1a1a"]},"legend":null}}},
         {"mark":{"type":"rule","color":"#000","strokeWidth":1.2},"encoding":{"x":{"field":"v","type":"quantitative","title":"O.D. 570 nm"},"x2":{"field":"hi"}}},
         {"mark":{"type":"tick","color":"#000","thickness":1.2,"size":7,"opacity":1},"encoding":{"x":{"field":"hi","type":"quantitative","title":"O.D. 570 nm"}}}
        ]}
      ]}
    ]},
   {"spacing":0,"bounds":"flush",
    "hconcat":[
     {"width":229,"height":179,"view":{"stroke":null},"data":{"name":"tc"},
      "layer":[
       {"mark":{"type":"rect","fill":"#ffffff","fillOpacity":0,"stroke":"#000000","strokeWidth":1.5},
        "encoding":{"x":{"field":"c0","type":"quantitative","scale":{"domain":[0,1,2,3],"range":[0,71,146,229],"nice":false,"zero":false},"axis":null},"x2":{"field":"c1"},"y":{"field":"r0","type":"quantitative","scale":{"domain":[0,9],"reverse":true,"nice":false,"zero":false},"axis":{"values":[],"labels":false,"ticks":false,"domain":false,"title":"C","titleAngle":0,"titleX":-44,"titleY":18,"titleAlign":"left","titleBaseline":"alphabetic","titleFontSize":32,"titleFont":"Open Sans","titleFontWeight":"normal"}},"y2":{"field":"r1"}}},
       {"transform":[{"filter":"datum.t!=''"},{"fold":["c0","c1"],"as":["ck","cx"]},{"fold":["r0","r1"],"as":["rk","ry"]},{"aggregate":[{"op":"mean","field":"cx","as":"xm"},{"op":"mean","field":"ry","as":"ym"}],"groupby":["t"]}],
        "mark":{"type":"text","align":"center","baseline":"middle","fontSize":14,"lineHeight":14,"lineBreak":"\n","font":"Liberation Sans","color":"#000000"},
        "encoding":{"x":{"field":"xm","type":"quantitative"},"y":{"field":"ym","type":"quantitative"},"text":{"field":"t","type":"nominal"}}}
      ]},
     {"width":311,"height":179,"view":{"stroke":null},"data":{"name":"c"},
      "encoding":{"y":{"field":"c","type":"nominal","sort":null,"scale":{"paddingInner":0,"paddingOuter":0},"axis":{"title":null,"domain":false,"labelFontWeight":"bold","labelFontSize":14,"labelColor":"#000","tickColor":"#000","tickSize":4,"tickWidth":1.2,"labelPadding":2}}},
      "layer":[
       {"mark":{"type":"bar","height":{"band":0.65},"stroke":"#000","strokeWidth":1.2,"opacity":1},
        "encoding":{"x":{"field":"v","type":"quantitative","stack":null,"scale":{"domain":[0,1.2],"nice":false,"zero":true},"axis":{"values":[0,0.4,0.8,1.2],"format":".1f","title":"O.D. 570 nm","labelFontSize":11,"labelFontWeight":"bold","titleFontSize":13,"titleFontWeight":"bold","titlePadding":6,"tickSize":4,"tickColor":"#000","domainColor":"#000","domainWidth":1.5,"labelPadding":2}},"fill":{"field":"k","type":"nominal","scale":{"domain":["ab","none","ctrl","test"],"range":["#000000","#8c8c8c","#d3d3d3","#1a1a1a"]},"legend":null}}},
       {"mark":{"type":"rule","color":"#000","strokeWidth":1.2},"encoding":{"x":{"field":"v","type":"quantitative","title":"O.D. 570 nm"},"x2":{"field":"hi"}}},
       {"mark":{"type":"tick","color":"#000","thickness":1.2,"size":7,"opacity":1},"encoding":{"x":{"field":"hi","type":"quantitative","title":"O.D. 570 nm"}}}
      ]}
    ]}
  ]
 }
]
}
